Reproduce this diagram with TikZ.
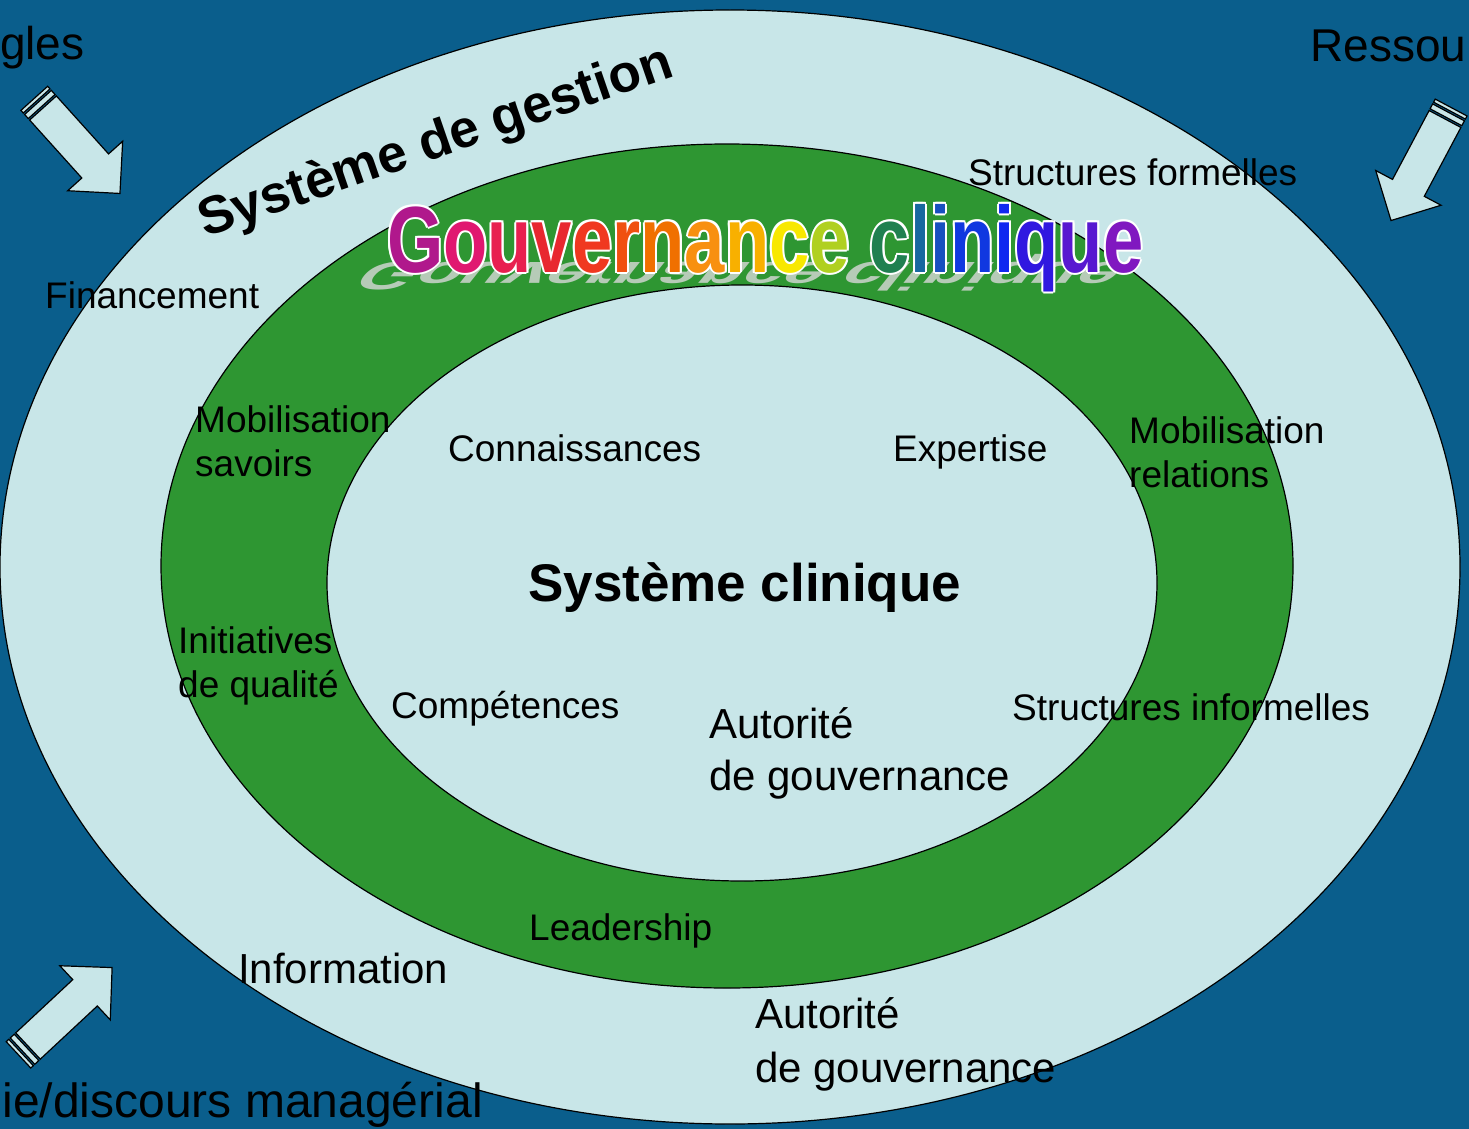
\documentclass[tikz,border=0pt]{standalone}
\usepackage{fontspec}
\usepackage{graphicx}
\setmainfont{Liberation Sans}
\definecolor{bgblue}{RGB}{10,94,140}
\definecolor{pale}{RGB}{200,230,232}
\definecolor{ringgreen}{RGB}{46,150,50}
\definecolor{gA}{RGB}{176,24,140}
\definecolor{gB}{RGB}{224,24,112}
\definecolor{gC}{RGB}{232,32,80}
\definecolor{gD}{RGB}{232,40,48}
\definecolor{gE}{RGB}{240,56,32}
\definecolor{gF}{RGB}{240,80,16}
\definecolor{gG}{RGB}{240,112,0}
\definecolor{gH}{RGB}{248,144,16}
\definecolor{gI}{RGB}{248,176,0}
\definecolor{gJ}{RGB}{248,232,0}
\definecolor{gK}{RGB}{176,208,32}
\definecolor{gL}{RGB}{32,128,80}
\definecolor{gM}{RGB}{24,104,160}
\definecolor{gN}{RGB}{24,80,192}
\definecolor{gO}{RGB}{16,56,224}
\definecolor{gP}{RGB}{16,40,240}
\definecolor{gQ}{RGB}{48,24,224}
\definecolor{gR}{RGB}{88,24,208}
\definecolor{gS}{RGB}{128,24,192}
\newif\ifgcplain
\newcommand\lc[2]{\ifgcplain #2\else\textcolor{#1}{#2}\fi}
\newcommand\GCtext{\lc{gA}{G}\lc{gB}{o}\lc{gC}{u}\lc{gD}{v}\lc{gE}{e}\lc{gF}{r}\lc{gG}{n}\lc{gH}{a}\lc{gI}{n}\lc{gJ}{c}\lc{gK}{e} \lc{gL}{c}\lc{gM}{l}\lc{gN}{i}\lc{gO}{n}\lc{gP}{i}\lc{gQ}{q}\lc{gR}{u}\lc{gS}{e}}
\newcommand\GCbox{\scalebox{0.77}[1]{\GCtext}}
\tikzset{
  ring/.style={draw=black, line width=1.2pt},
  arrowline/.style={draw=black, line width=1.2pt, fill=pale, line join=miter},
  lbl/.style={anchor=base west, inner sep=0pt, text=black, font=\fontsize{37}{43}\selectfont},
  lblbig/.style={anchor=base west, inner sep=0pt, text=black, font=\fontsize{42}{48}\selectfont},
  outerlbl/.style={anchor=base west, inner sep=0pt, text=black, font=\fontsize{46}{50}\selectfont},
  gcstyle/.style={anchor=base west, inner sep=0pt, font=\fontsize{94}{94}\selectfont\bfseries},
  blockarrow/.pic={
    \draw[arrowline] (0,-18) -- (78,-18) -- (78,-37) -- (115,0) -- (78,37) -- (78,18) -- (0,18) -- cycle;
    \draw[arrowline] (-7.5,-18) rectangle (-2,18);
    \draw[arrowline] (-13,-18) rectangle (-9.5,18);
  }
}
\begin{document}
\begin{tikzpicture}[x=1pt,y=-1pt]
\useasboundingbox (0,0) rectangle (1469,1129);
\clip (0,0) rectangle (1469,1129);
\fill[bgblue] (0,0) rectangle (1469,1129);
% rings
\draw[ring, fill=pale] (730,567) ellipse [x radius=730, y radius=557];
\draw[ring, fill=ringgreen] (727,566) ellipse [x radius=566, y radius=422];
\draw[ring, fill=pale] (742,583) ellipse [x radius=415, y radius=298];
% block arrows
\pic[rotate=-48] at (43,108) {blockarrow};
\pic[rotate=-118] at (1445,119) {blockarrow};
\pic[rotate=43] at (28,1046) {blockarrow};
% outside labels
\node[outerlbl] (regles) at (0,60) {gles};
\node[outerlbl] (ressou) at (1310,62) {Ressou};
\node[outerlbl, anchor=base east, font=\fontsize{48}{50}\selectfont] (ideo) at (483,1117) {ie/discours managérial};
% Systeme de gestion
\node[anchor=base west, inner sep=0pt, rotate=19, font=\fontsize{53}{53}\selectfont\bfseries] (sysgest) at (205,238) {Système de gestion};
% Gouvernance clinique (word art)
\begin{scope}[shift={(372,262)}, xslant=0.8, yscale=-0.42]
\node[gcstyle, transform shape, text=gray!30, opacity=0.8] (gcshadow) at (0,0) {\gcplaintrue\GCbox};
\end{scope}
\foreach \dx/\dy [count=\k] in {-2/0,2/0,0/-2,0/2,-1.5/-1.5,1.5/1.5,-1.5/1.5,1.5/-1.5}
  \node[gcstyle, text=white] (gcw\k) at (387+\dx,272+\dy) {\gcplaintrue\GCbox};
\node[gcstyle] (gctitle) at (387,272) {\GCbox};
% ring labels
\node[lbl] (fin) at (45,308) {Financement};
\node[lbl] (sf) at (968,185) {Structures formelles};
\node[lbl] (mob1a) at (195,432) {Mobilisation};
\node[lbl] (mob1b) at (195,476) {savoirs};
\node[lbl] (conn) at (448,461) {Connaissances};
\node[lbl] (exp) at (893,461) {Expertise};
\node[lbl] (mob2a) at (1129,443) {Mobilisation};
\node[lbl] (mob2b) at (1129,487) {relations};
\node[anchor=base west, inner sep=0pt, font=\fontsize{53}{53}\selectfont\bfseries] (sysclin) at (528,601) {Système clinique};
\node[lbl] (init1) at (178,653) {Initiatives};
\node[lbl] (init2) at (178,697) {de qualité};
\node[lbl] (comp) at (391,718) {Compétences};
\node[lblbig] (aut1a) at (709,738) {Autorité};
\node[lblbig] (aut1b) at (709,790) {de gouvernance};
\node[lbl] (si) at (1012,720) {Structures informelles};
\node[lbl] (lead) at (529,940) {Leadership};
\node[lblbig] (info) at (238,983) {Information};
\node[lblbig] (aut2a) at (755,1028) {Autorité};
\node[lblbig] (aut2b) at (755,1082) {de gouvernance};
\end{tikzpicture}
\end{document}
